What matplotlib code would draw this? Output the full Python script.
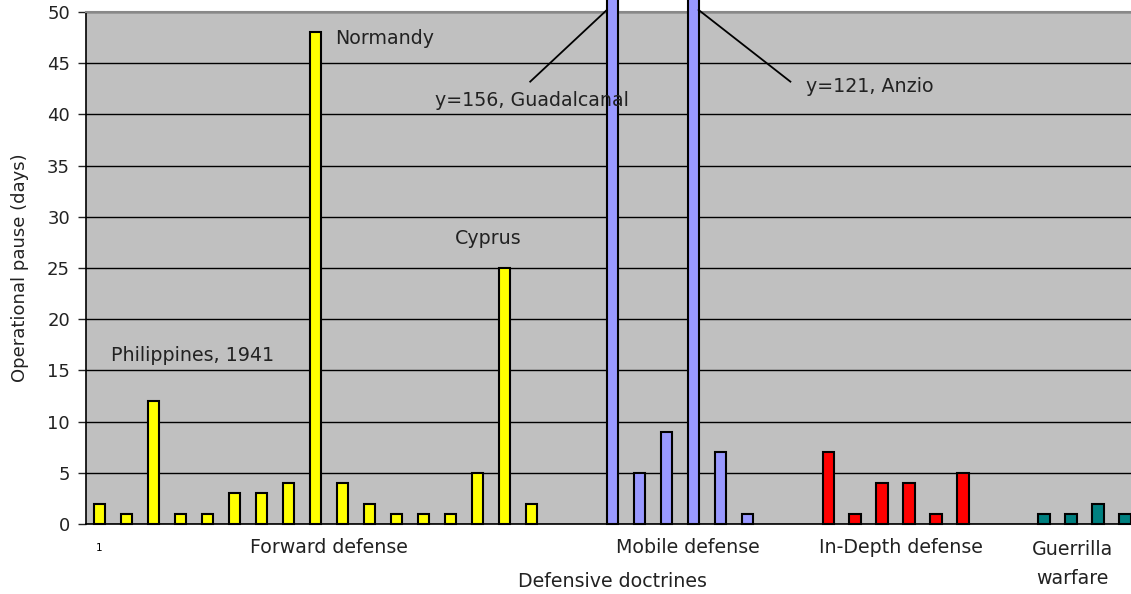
import numpy as np
import matplotlib
matplotlib.use("Agg")
import matplotlib.pyplot as plt
from matplotlib.transforms import blended_transform_factory

# pause lengths (days) for each group of doctrines
forward = [2, 1, 12, 1, 1, 3, 3, 4, 48, 4, 2, 1, 1, 1, 5, 25, 2]
mobile = [156, 5, 9, 121, 7, 1]
indepth = [7, 1, 4, 4, 1, 5]
guerrilla = [1, 1, 2, 1]

groups = ["Forward defense", "Mobile defense", "In-Depth defense", "Guerrilla\nwarfare"]
colors = ["#FFFF00", "#9999FF", "#FF0000", "#008080"]
gap = 2  # empty slots between groups
fs = 13.7
tc = "#222222"

fig = plt.figure(figsize=(11.31, 5.94), dpi=100)
ax = fig.add_axes([0.0760, 0.1178, 0.924, 0.862])
ax.set_facecolor("#C0C0C0")

trans = blended_transform_factory(ax.transData, ax.transAxes)
start = 0
for vals, name, col in zip([forward, mobile, indepth, guerrilla], groups, colors):
    x = np.arange(start, start + len(vals))
    ax.bar(x, vals, width=0.42, color=col, edgecolor="black", linewidth=1.5,
           zorder=3, clip_on=False)
    start = start + len(vals) + gap

ax.set_xlim(-0.5, 38.22)
ax.set_ylim(0, 50)
ax.set_yticks(np.arange(0, 51, 5))
ax.yaxis.grid(True, color="black", linewidth=1.0)
ax.set_axisbelow(True)
ax.tick_params(axis="y", length=5.5, width=1, pad=6, labelsize=13, colors=tc)
ax.set_xticks([0])
ax.set_xticklabels(["1"], fontsize=7.5)
ax.tick_params(axis="x", length=0, pad=14)
ax.spines["right"].set_visible(False)
ax.spines["top"].set_color("#888888")
ax.spines["top"].set_linewidth(1.5)
ax.spines["left"].set_linewidth(1.2)
ax.spines["bottom"].set_linewidth(1.2)

# group names under the axis
ax.text(8.5, -0.045, groups[0], transform=trans, ha="center", va="center", fontsize=fs, color=tc)
ax.text(21.8, -0.045, groups[1], transform=trans, ha="center", va="center", fontsize=fs, color=tc)
ax.text(29.7, -0.045, groups[2], transform=trans, ha="center", va="center", fontsize=fs, color=tc)
ax.text(36.05, -0.031, groups[3], transform=trans, ha="center", va="top", fontsize=fs,
        color=tc, linespacing=1.7)
ax.text(0.504, -0.113, "Defensive doctrines", transform=ax.transAxes, ha="center",
        va="center", fontsize=fs, color=tc)
ax.set_ylabel("Operational pause (days)", fontsize=13, color=tc, labelpad=13)

# labels for notable operations
ax.text(8.74, 47.4, "Normandy", ha="left", va="center", fontsize=fs, color=tc, zorder=5)
ax.text(14.4, 27.9, "Cyprus", ha="center", va="center", fontsize=fs, color=tc, zorder=5)
ax.text(0.44, 16.5, "Philippines, 1941", ha="left", va="center", fontsize=fs, color=tc, zorder=5)
ax.text(12.44, 41.4, "y=156, Guadalcanal", ha="left", va="center", fontsize=fs, color=tc, zorder=5)
ax.text(26.19, 42.7, "y=121, Anzio", ha="left", va="center", fontsize=fs, color=tc, zorder=5)
ax.plot([15.96, 18.8], [43.2, 50.2], color="black", linewidth=1.3, clip_on=False, zorder=4)
ax.plot([22.2, 25.6], [50.2, 43.2], color="black", linewidth=1.3, clip_on=False, zorder=4)

fig.savefig("out.png", dpi=100)
